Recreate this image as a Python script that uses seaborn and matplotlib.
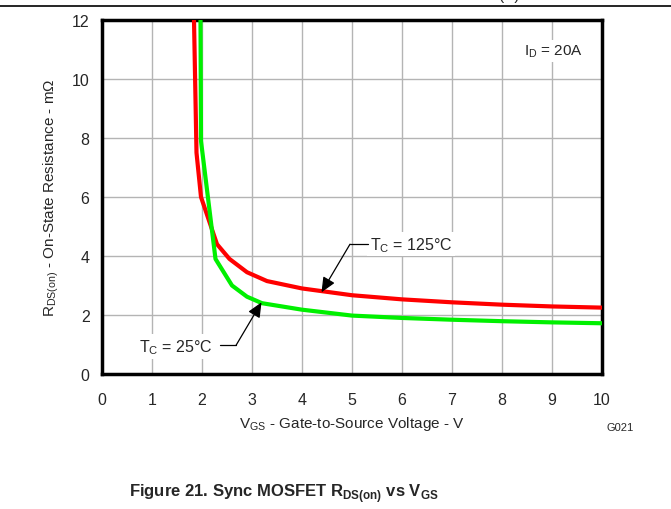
import numpy as np
import pandas as pd
import matplotlib
matplotlib.use("Agg")
import matplotlib.pyplot as plt
import seaborn as sns
from matplotlib.lines import Line2D

# Sync MOSFET R_DS(on) vs V_GS, I_D = 20 A
vgs_125 = [1.84, 1.89, 1.98, 2.30, 2.55, 2.90, 3.30, 4.00, 5.00, 6.00, 7.00, 8.00, 9.00, 10.00]
rds_125 = [12.0, 7.5, 6.0, 4.4, 3.9, 3.45, 3.15, 2.9, 2.67, 2.53, 2.43, 2.35, 2.29, 2.25]

vgs_25 = [1.97, 1.98, 2.27, 2.60, 2.90, 3.20, 4.00, 5.00, 6.00, 7.00, 8.00, 9.00, 10.00]
rds_25 = [12.0, 7.9, 3.9, 3.0, 2.62, 2.4, 2.18, 1.98, 1.9, 1.84, 1.79, 1.75, 1.72]

x_ticks = list(range(0, 11))
y_ticks = [0, 2, 4, 6, 8, 10, 12]

df = pd.concat([
    pd.DataFrame({"vgs": vgs_125, "rds": rds_125, "temp": "125C"}),
    pd.DataFrame({"vgs": vgs_25, "rds": rds_25, "temp": "25C"}),
])

sns.set_style("white")
plt.rcParams["font.family"] = ["Liberation Sans", "DejaVu Sans"]
plt.rcParams["mathtext.fontset"] = "custom"
plt.rcParams["mathtext.rm"] = "Liberation Sans"
plt.rcParams["mathtext.bf"] = "Liberation Sans:bold"

fig = plt.figure(figsize=(6.71, 5.10), dpi=100)
ax = fig.add_axes([102 / 671, 1 - 375 / 510, 500 / 671, 354 / 510])

sns.lineplot(data=df, x="vgs", y="rds", hue="temp", sort=False,
             palette={"125C": "#ff0000", "25C": "#00f000"},
             linewidth=3, legend=False, ax=ax, zorder=3)

ax.set_xlim(0, 10)
ax.set_ylim(0, 12)
ax.set_xticks(x_ticks)
ax.set_yticks(y_ticks)
ax.grid(True, color="#b4b4b4", linewidth=1.0)
ax.tick_params(length=0, labelsize=11.5)
ax.tick_params(axis="x", pad=13)
ax.tick_params(axis="y", pad=9)
for s in ax.spines.values():
    s.set_linewidth(2.5)
    s.set_color("black")

ax.set_xlabel(r"V$_\mathregular{GS}$ - Gate-to-Source Voltage - V", fontsize=11, labelpad=5)
ax.set_ylabel(r"R$_\mathregular{DS(on)}$ - On-State Resistance - m$\Omega$", fontsize=11, labelpad=8)

box = dict(facecolor="white", edgecolor="none", pad=2)
ax.text(9.62, 10.96, r"I$_\mathregular{D}$ = 20A", ha="right", va="center",
        fontsize=11, bbox=box, zorder=4)

# 125 C callout
ax.text(5.36, 4.4, r"T$_\mathregular{C}$ = 125°C", ha="left", va="center",
        fontsize=11.5, bbox=box, zorder=4)
ax.plot([5.32, 4.96], [4.4, 4.4], color="black", lw=0.9, zorder=5)
ax.annotate("", xy=(4.39, 2.77), xytext=(4.96, 4.4),
            arrowprops=dict(arrowstyle="-|>,head_length=0.9,head_width=0.4",
                            color="black", lw=0.9, shrinkA=0, shrinkB=0), zorder=5)

# 25 C callout
ax.text(2.22, 0.93, r"T$_\mathregular{C}$ = 25°C", ha="right", va="center",
        fontsize=11.5, bbox=box, zorder=4)
ax.plot([2.36, 2.68], [0.97, 0.97], color="black", lw=0.9, zorder=5)
ax.annotate("", xy=(3.19, 2.43), xytext=(2.68, 0.97),
            arrowprops=dict(arrowstyle="-|>,head_length=0.9,head_width=0.4",
                            color="black", lw=0.9, shrinkA=0, shrinkB=0), zorder=5)

# page decorations
fig.add_artist(Line2D([0, 1], [1 - 7 / 510, 1 - 7 / 510], color="black", lw=1.2))
fig.text(509 / 671, 1 - 3 / 510, "(A)", ha="center", va="bottom", fontsize=11)
fig.text(620 / 671, 1 - 428 / 510, "G021", ha="center", va="center", fontsize=8)
fig.text(284 / 671, 1 - 494 / 510,
         r"Figure 21. Sync MOSFET R$_\mathbf{DS(on)}$ vs V$_\mathbf{GS}$",
         ha="center", va="center", fontsize=12, fontweight="bold")

fig.savefig("out.png", dpi=100)
